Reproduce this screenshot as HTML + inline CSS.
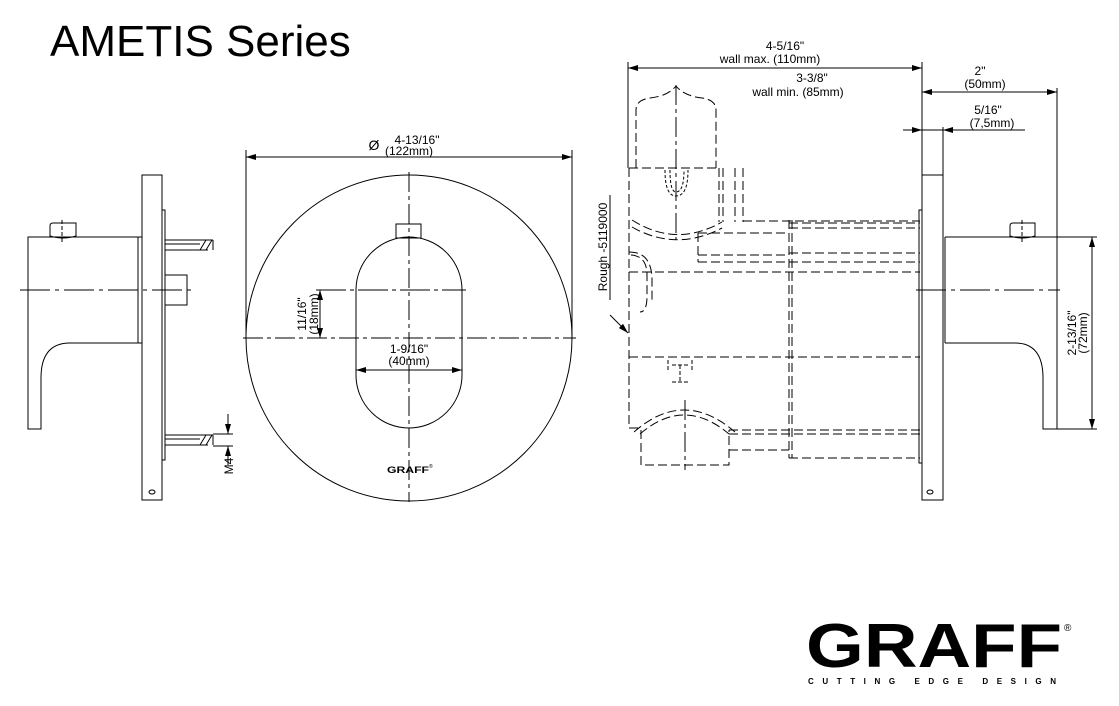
<!DOCTYPE html>
<html><head><meta charset="utf-8"><style>
html,body{margin:0;padding:0;background:#fff;}
svg{display:block;font-family:"Liberation Sans",Arial,sans-serif;}
</style></head><body>
<svg width="1119" height="706" viewBox="0 0 1119 706" xmlns="http://www.w3.org/2000/svg">
<defs>
<marker id="a" markerWidth="10" markerHeight="6" refX="10" refY="3" orient="auto" markerUnits="userSpaceOnUse"><path d="M0,0 L10,3 L0,6z" fill="#000"/></marker>
<marker id="b" markerWidth="10" markerHeight="6" refX="0" refY="3" orient="auto" markerUnits="userSpaceOnUse"><path d="M10,0 L0,3 L10,6z" fill="#000"/></marker>
</defs>
<rect width="1119" height="706" fill="#fff"/>
<text x="50" y="56" font-size="44">AMETIS Series</text>

<g fill="none" stroke="#000" stroke-width="1">
<rect x="142" y="175" width="20" height="325"/>
<rect x="162" y="210" width="3" height="250"/>
<path d="M140,237 H28 V429 H41 V378 Q41,343 70,343 H140"/>
<rect x="138" y="237" width="4" height="106"/>
<path d="M50,226 Q50,223 53,223 H76 V236 Q63,240 50,236Z"/>
<line x1="62" y1="220" x2="62" y2="242" stroke-dasharray="4,2"/>
<line x1="20" y1="290" x2="192" y2="290" stroke-dasharray="30,5,4,5"/>
<rect x="165" y="275" width="22" height="30"/>
<path d="M165,240 H213 M165,250 H208 M165,244 H200 M200,250 L206,240 M206,250 L212,240 M213,240 V250"/>
<path d="M165,435 H213 M165,445 H208 M165,439 H200 M200,445 L206,435 M206,445 L212,435 M213,435 V445"/>
<line x1="213" y1="434" x2="233" y2="434"/><line x1="213" y1="446" x2="233" y2="446"/>
<line x1="228" y1="414" x2="228" y2="434" marker-end="url(#a)"/>
<line x1="228" y1="465" x2="228" y2="446" marker-end="url(#a)"/>
<ellipse cx="152" cy="492" rx="3" ry="2"/>

<circle cx="409" cy="338" r="163"/>
<path d="M356,290 A53,53 0 0 1 462,290 V375 A53,53 0 0 1 356,375 Z"/>
<rect x="396" y="224" width="25" height="14"/>
<line x1="409" y1="172" x2="409" y2="502" stroke-dasharray="20,4,4,4"/>
<line x1="243" y1="338" x2="576" y2="338" stroke-dasharray="20,4,4,4"/>
<line x1="246" y1="150" x2="246" y2="338"/><line x1="572" y1="150" x2="572" y2="338"/>
<line x1="246" y1="157" x2="572" y2="157" marker-start="url(#b)" marker-end="url(#a)"/>
<line x1="316" y1="290" x2="466" y2="290" stroke-dasharray="30,4,4,4"/>
<line x1="320" y1="290" x2="320" y2="338" marker-start="url(#b)" marker-end="url(#a)"/>
<line x1="356" y1="370" x2="462" y2="370" marker-start="url(#b)" marker-end="url(#a)"/>

<rect x="922" y="130" width="21" height="370"/>
<line x1="922" y1="175" x2="943" y2="175"/>
<rect x="919" y="210" width="3" height="253"/>
<path d="M945,237 H1057 V429 H1043 V378 Q1043,343 1015,343 H945"/>
<line x1="945" y1="237" x2="945" y2="343"/>
<path d="M1010,226 Q1010,223 1013,223 H1035 V236 Q1022,240 1010,236Z"/>
<line x1="1022" y1="220" x2="1022" y2="242" stroke-dasharray="4,2"/>
<line x1="916" y1="290" x2="1060" y2="290" stroke-dasharray="30,5,4,5"/>
<ellipse cx="930" cy="492" rx="3" ry="2"/>
<line x1="1057" y1="88" x2="1057" y2="237"/>
<line x1="1057" y1="237" x2="1097" y2="237"/><line x1="1057" y1="429" x2="1097" y2="429"/>
<line x1="1092" y1="237" x2="1092" y2="429" marker-start="url(#b)" marker-end="url(#a)"/>

<line x1="628" y1="62" x2="628" y2="168"/>
<line x1="922" y1="62" x2="922" y2="130"/>
<line x1="628" y1="68" x2="922" y2="68" marker-start="url(#b)" marker-end="url(#a)"/>
<line x1="922" y1="92" x2="1057" y2="92" marker-start="url(#b)" marker-end="url(#a)"/>
<line x1="903" y1="130" x2="922" y2="130" marker-end="url(#a)"/>
<line x1="943" y1="127" x2="943" y2="175"/>
<line x1="1025" y1="130" x2="943" y2="130" marker-end="url(#a)"/>

<g stroke-dasharray="9,4">
<path d="M636,168 V110 Q636,100 650,98 Q668,96 676,86 Q684,96 702,98 Q716,100 716,110 V168"/>
<path d="M629,168 H716 M629,168 V428 H641"/>
<path d="M719,168 V222 M723,168 V222 M735,168 V222 M743,168 V222"/>
<path d="M743,221 H920 M789,223 H920 M789,228 H920"/>
<path d="M698,233 H789 M698,255 H789 M698,262 H920 M789,253 H920 M698,233 V262"/>
<path d="M629,272 H920"/>
<path d="M789,220 V458 M792,220 V458"/>
<path d="M629,357 H920"/>
<path d="M641,430 V465 H729 V430"/>
<path d="M729,430 H920 M729,434 H920 M729,450 H789 M789,458 H920"/>
<path d="M632,220 Q676,248 722,222 M632,227 Q676,252 722,228"/>
<path d="M634,432 Q684,388 735,432 M640,434 Q684,396 729,434"/>
<path d="M631,255 Q647,256 647,275 V296 Q647,312 640,312 M629,252 Q652,252 652,280 V300"/>
</g>
<line x1="676" y1="85" x2="676" y2="240" stroke-dasharray="20,4,4,4"/>
<line x1="685" y1="400" x2="685" y2="470" stroke-dasharray="20,4,4,4"/>
<path d="M672,365 H688 M672,382 H688 M680,365 V382 M668,360 V372 M692,360 V372" stroke-dasharray="4,2"/>
<path d="M670,170 Q670,192 676,192 Q684,192 684,170 M665,170 Q665,196 676,196 Q688,196 688,170" stroke-dasharray="3,2"/>
<line x1="610" y1="195" x2="610" y2="300"/>
<line x1="610" y1="315" x2="628" y2="333" marker-end="url(#a)"/>
</g>

<g font-size="12" text-anchor="middle">
<text x="374" y="150" font-size="14">Ø</text>
<text x="417" y="144">4-13/16"</text><text x="409" y="155">(122mm)</text>
<text x="409" y="353">1-9/16"</text><text x="409" y="365">(40mm)</text>
<text transform="translate(306,314) rotate(-90)">11/16"</text>
<text transform="translate(318,314) rotate(-90)">(18mm)</text>
<text transform="translate(233,466) rotate(-90)">M4</text>
<text x="785" y="50">4-5/16"</text><text x="770" y="63">wall max. (110mm)</text>
<text x="812" y="82">3-3/8"</text><text x="798" y="96">wall min. (85mm)</text>
<text x="980" y="75">2"</text><text x="985" y="88">(50mm)</text>
<text x="988" y="114">5/16"</text><text x="992" y="127">(7,5mm)</text>
<text transform="translate(1076,333) rotate(-90)">2-13/16"</text>
<text transform="translate(1087,333) rotate(-90)">(72mm)</text>
<text transform="translate(607,247) rotate(-90)">Rough -5119000</text>
</g>
<text x="387" y="473" font-size="9" font-weight="bold" textLength="42" lengthAdjust="spacingAndGlyphs">GRAFF</text>
<text x="429" y="468" font-size="5">®</text>

<text x="806" y="667" font-size="62" font-weight="bold" textLength="256" lengthAdjust="spacingAndGlyphs">GRAFF</text>
<text x="1064" y="631" font-size="10">®</text>
<text x="808" y="684" font-size="8" font-weight="bold" textLength="248" lengthAdjust="spacing">CUTTING EDGE DESIGN</text>
</svg>
</body></html>
